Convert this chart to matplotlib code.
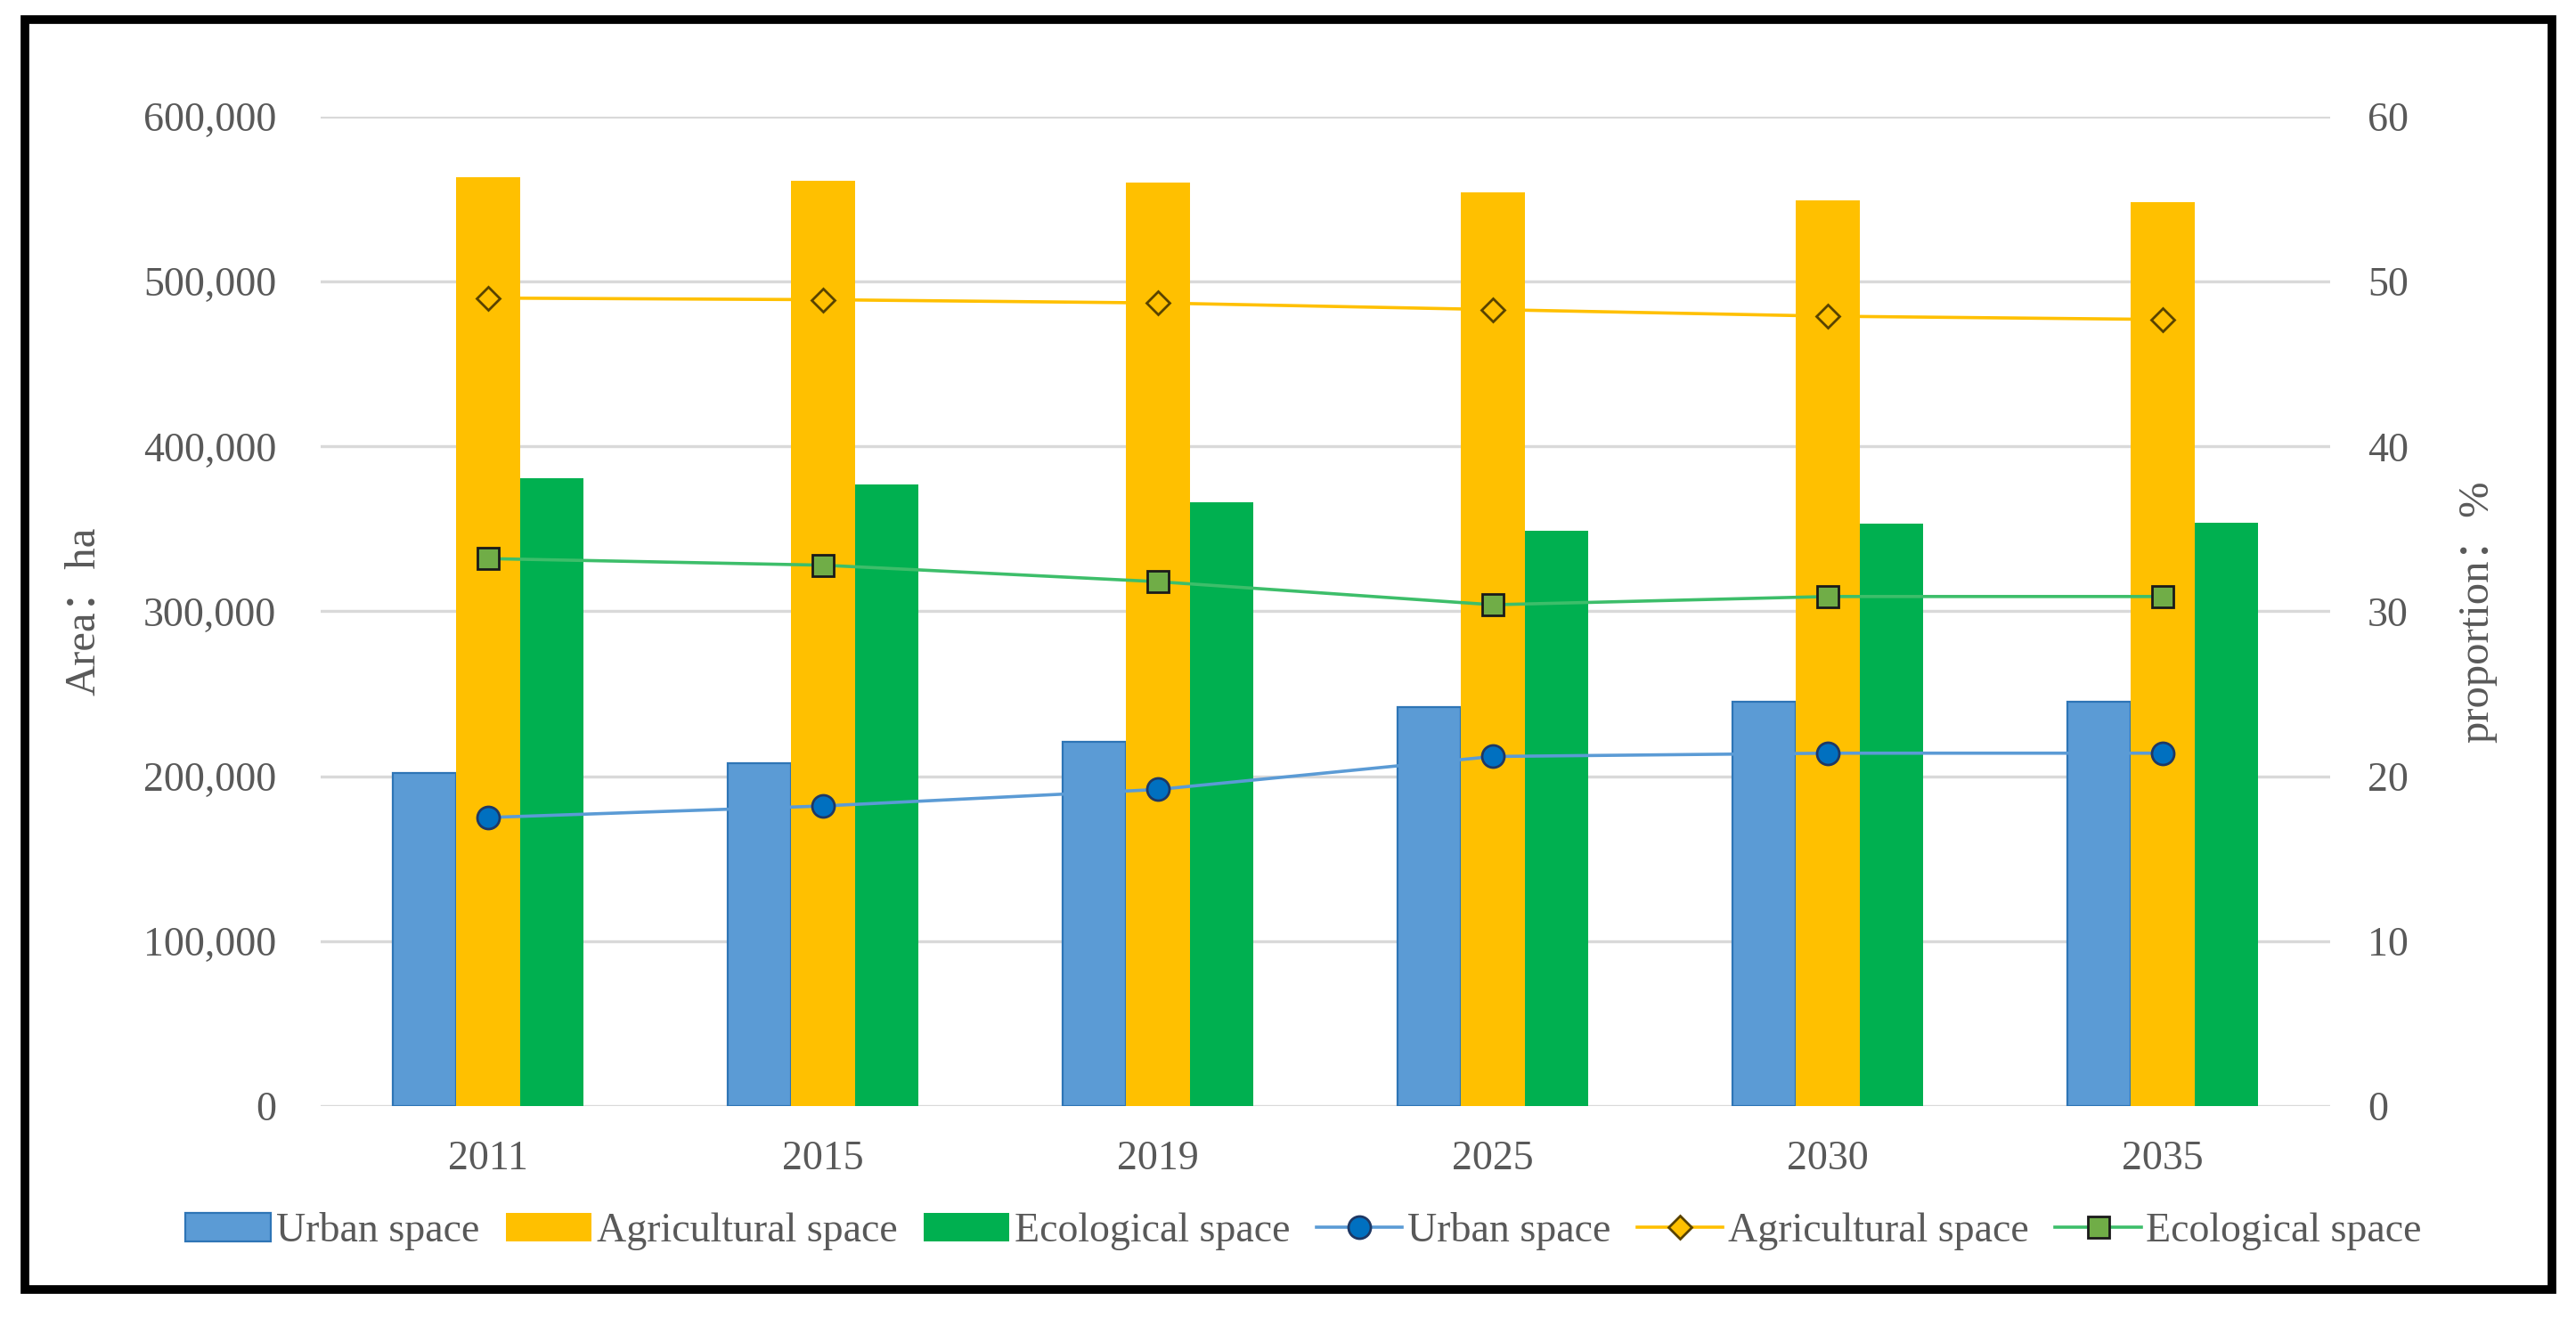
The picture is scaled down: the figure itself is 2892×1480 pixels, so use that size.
import numpy as np
import matplotlib.pyplot as plt
from matplotlib.patches import Rectangle
from matplotlib.ticker import FuncFormatter

# Data
years = ["2011", "2015", "2019", "2025", "2030", "2035"]
urban_area = [202000, 208000, 221000, 242000, 245000, 245000]
agri_area = [563000, 561000, 560000, 554000, 549000, 548000]
eco_area = [381000, 377000, 366000, 349000, 353000, 354000]
urban_prop = [17.5, 18.2, 19.2, 21.2, 21.4, 21.4]
agri_prop = [49.0, 48.9, 48.7, 48.3, 47.9, 47.7]
eco_prop = [33.2, 32.8, 31.8, 30.4, 30.9, 30.9]

plt.rcParams['font.family'] = ['Liberation Serif', 'Noto Sans CJK SC']

fig = plt.figure(figsize=(14.46, 7.40), dpi=200)
ax = fig.add_axes([0.1245, 0.1608, 0.7801, 0.7507])
ax2 = ax.twinx()

x = np.arange(len(years))
w = 0.19

ax.bar(x - w, urban_area, w, color="#5B9BD5", edgecolor="#2E75B6", linewidth=0.8, label="Urban space", zorder=2)
ax.bar(x, agri_area, w, color="#FFC000", label="Agricultural space", zorder=2)
ax.bar(x + w, eco_area, w, color="#00B050", label="Ecological space", zorder=2)

ax2.plot(x, urban_prop, color="#5B9BD5", lw=1.3, marker="o", ms=9,
         mfc="#0070C0", mec="#1F3864", mew=1.0, label="Urban space")
ax2.plot(x, agri_prop, color="#FFC000", lw=1.3, marker="D", ms=6.5,
         mfc="#FFC000", mec="#594300", mew=1.0, label="Agricultural space")
ax2.plot(x, eco_prop, color="#3DBE6A", lw=1.3, marker="s", ms=8.5,
         mfc="#70AD47", mec="#1A1A1A", mew=1.0, label="Ecological space")

ax.set_xlim(-0.5, len(years) - 0.5)
ax.set_ylim(0, 600000)
ax2.set_ylim(0, 60)
ax.set_yticks(np.arange(0, 600001, 100000))
ax2.set_yticks(np.arange(0, 61, 10))
ax.yaxis.set_major_formatter(FuncFormatter(lambda v, p: f"{int(v):,}"))
ax.set_xticks(x)
ax.set_xticklabels(years)

ax.grid(axis="y", color="#D9D9D9", lw=1.2, zorder=0)
ax.set_axisbelow(True)
for a in (ax, ax2):
    for s in a.spines.values():
        s.set_visible(False)
    a.tick_params(length=0, labelsize=16.5, labelcolor="#595959")
ax.tick_params(axis="y", pad=18)
ax.tick_params(axis="x", pad=14)
ax2.tick_params(axis="y", pad=15)

ax.set_ylabel("Area：ha", fontsize=17.5, color="#595959", labelpad=16)
ax2.set_ylabel("proportion：%", fontsize=17.5, color="#595959", labelpad=20)

h1, l1 = ax.get_legend_handles_labels()
h2, l2 = ax2.get_legend_handles_labels()
fig.legend(h1 + h2, l1 + l2, loc="center", bbox_to_anchor=(0.506, 0.066), ncol=6,
           frameon=False, fontsize=16.5, handlelength=2.1, handletextpad=0.12,
           columnspacing=0.65, labelcolor="#595959")

# black frame around the figure
fig.patches.append(Rectangle((0.0097, 0.0216), 0.9810, 0.9635, transform=fig.transFigure,
                             fill=False, edgecolor="black", linewidth=3.5))

fig.savefig("out.png", dpi=200, facecolor="white")
